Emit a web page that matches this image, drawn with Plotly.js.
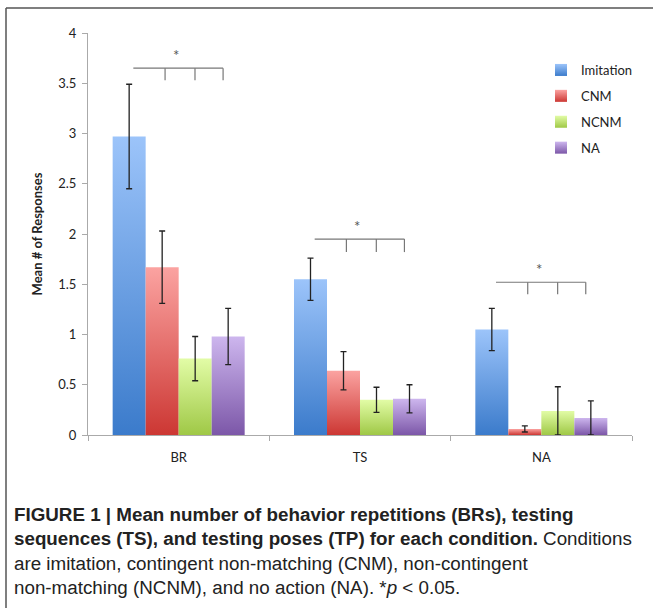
<!DOCTYPE html>
<html>
<head>
<meta charset="utf-8">
<script src="https://cdn.plot.ly/plotly-3.0.1.min.js"></script>
<style>html,body{margin:0;padding:0;background:#fff;}</style>
</head>
<body>
<div id="chart" style="width:654px;height:608px;"></div>
<script>
// ---- data ----
const categories = ['BR', 'TS', 'NA'];
const seriesNames = ['Imitation', 'CNM', 'NCNM', 'NA'];
const imitation = [2.97, 1.55, 1.05];
const imitationErr = [0.52, 0.21, 0.21];
const cnm = [1.67, 0.64, 0.06];
const cnmErr = [0.36, 0.19, 0.03];
const ncnm = [0.76, 0.35, 0.24];
const ncnmErr = [0.22, 0.125, 0.24];
const noAction = [0.98, 0.36, 0.17];
const noActionErr = [0.28, 0.14, 0.17];
// significance brackets (per category)
const bracketTop = [3.65, 1.95, 1.52];
const bracketDrop = [3.53, 1.82, 1.40];
const starY = [3.78, 2.08, 1.65];
const starText = ['*', '*', '*'];
const captionLines = [
  '<b>FIGURE 1 | Mean number of behavior repetitions (BRs), testing</b>',
  '<b>sequences (TS), and testing poses (TP) for each condition.</b> Conditions',
  'are imitation, contingent non-matching (CNM), non-contingent',
  'non-matching (NCNM), and no action (NA). *<i>p</i> &lt; 0.05.'
];

// ---- styles ----
const values = [imitation, cnm, ncnm, noAction];
const errs = [imitationErr, cnmErr, ncnmErr, noActionErr];
const midColors = ['#6a9fe6', '#e86a68', '#c3e67a', '#a58bd3'];
const gradTop = ['#9cc4fa', '#fba3a1', '#e2fca6', '#cdb6ee'];
const gradBot = ['#3b7bcb', '#cc3733', '#9fc846', '#7c57a8'];
const chartFont = 'Lato, "Open Sans", "DejaVu Sans", sans-serif';
const capFont = '"Liberation Sans", Arial, sans-serif';

// plot area in pixels
const W = 654, H = 608, L = 88, R = 22, T = 33, B = 173;
const pw = W - L - R, ph = H - T - B;
const px2x = p => (p - L) / pw;
const py2y = p => (H - B - p) / ph;

const traces = seriesNames.map((name, i) => ({
  type: 'bar',
  name: name,
  x: categories,
  y: values[i],
  legendgroup: 'g' + i,
  marker: { color: midColors[i], line: { width: 0 } },
  error_y: { type: 'data', array: errs[i], visible: true, color: '#222', thickness: 1.3, width: 3 }
}));

const shapes = [];
const offs = [-0.25, -0.075, 0.09, 0.245];
categories.forEach((c, k) => {
  shapes.push({ type: 'line', xref: 'x', yref: 'y', x0: k + offs[0], x1: k + offs[3], y0: bracketTop[k], y1: bracketTop[k], line: { color: '#777', width: 1.2 } });
  for (let j = 1; j < 4; j++) {
    shapes.push({ type: 'line', xref: 'x', yref: 'y', x0: k + offs[j], x1: k + offs[j], y0: bracketTop[k], y1: bracketDrop[k], line: { color: '#777', width: 1.2 } });
  }
});
// figure frame (left and top rules)
shapes.push({ type: 'line', xref: 'paper', yref: 'paper', x0: px2x(6), x1: px2x(6), y0: py2y(8), y1: py2y(610), line: { color: '#555', width: 1.5 } });
shapes.push({ type: 'line', xref: 'paper', yref: 'paper', x0: px2x(6), x1: px2x(653), y0: py2y(8), y1: py2y(8), line: { color: '#555', width: 1.5 } });

const annotations = categories.map((c, k) => ({
  xref: 'x', yref: 'y', x: k - 0.015, y: starY[k], text: starText[k], showarrow: false,
  font: { family: chartFont, size: 15, color: '#555' }
}));
const capY = [514, 538, 563, 587];
captionLines.forEach((t, i) => {
  annotations.push({
    xref: 'paper', yref: 'paper', x: px2x(12), y: py2y(capY[i]), xanchor: 'left', yanchor: 'middle',
    text: t, showarrow: false, align: 'left',
    font: { family: capFont, size: 18.8, color: '#222' }
  });
});

const layout = {
  width: W, height: H,
  margin: { l: L, r: R, t: T, b: B, pad: 0 },
  paper_bgcolor: '#fff', plot_bgcolor: '#fff',
  font: { family: chartFont, size: 13, color: '#222' },
  barmode: 'group', bargap: 0.272, bargroupgap: 0,
  showlegend: true,
  legend: { x: px2x(541), y: py2y(55), xanchor: 'left', yanchor: 'top', tracegroupgap: 6,
            bgcolor: 'rgba(0,0,0,0)', font: { family: chartFont, size: 13, color: '#222' }, itemwidth: 30 },
  xaxis: { type: 'category', showline: true, linecolor: '#aaa', linewidth: 1, ticks: 'outside', tickson: 'boundaries',
           ticklen: 5, tickcolor: '#aaa', showgrid: false, zeroline: false, fixedrange: true, ticklabelstandoff: 10,
           tickfont: { family: chartFont, size: 13, color: '#222' } },
  yaxis: { range: [0, 4], dtick: 0.5, tick0: 0, showline: true, linecolor: '#aaa', linewidth: 1, ticks: 'outside',
           ticklen: 5, tickcolor: '#aaa', showgrid: false, zeroline: false, fixedrange: true, ticklabelstandoff: 3,
           tickfont: { family: chartFont, size: 13, color: '#222' },
           title: { text: '<b>Mean # of Responses</b>', standoff: 12, font: { family: chartFont, size: 13, color: '#222' } } },
  shapes: shapes,
  annotations: annotations
};

Plotly.newPlot('chart', traces, layout, { staticPlot: true, displayModeBar: false }).then(gd => {
  // vertical gradient fill for bars (top light -> bottom dark)
  const svg = gd.querySelector('svg.main-svg');
  const ns = 'http://www.w3.org/2000/svg';
  let defs = svg.querySelector('defs');
  if (!defs) { defs = document.createElementNS(ns, 'defs'); svg.insertBefore(defs, svg.firstChild); }
  gradTop.forEach((c, i) => {
    const g = document.createElementNS(ns, 'linearGradient');
    g.setAttribute('id', 'bargrad' + i);
    g.setAttribute('x1', '0'); g.setAttribute('y1', '0'); g.setAttribute('x2', '0'); g.setAttribute('y2', '1');
    const s1 = document.createElementNS(ns, 'stop'); s1.setAttribute('offset', '0'); s1.setAttribute('stop-color', c);
    const s2 = document.createElementNS(ns, 'stop'); s2.setAttribute('offset', '1'); s2.setAttribute('stop-color', gradBot[i]);
    g.appendChild(s1); g.appendChild(s2); defs.appendChild(g);
  });
  gd.querySelectorAll('.barlayer .trace').forEach((tr, i) => {
    tr.querySelectorAll('.point path').forEach(p => { p.style.fill = 'url(#bargrad' + i + ')'; });
  });
  gd.querySelectorAll('.legend .traces').forEach((tr, i) => {
    tr.querySelectorAll('.legendpoints path').forEach(p => { p.style.fill = 'url(#bargrad' + i + ')'; });
  });
});
</script>
</body>
</html>
